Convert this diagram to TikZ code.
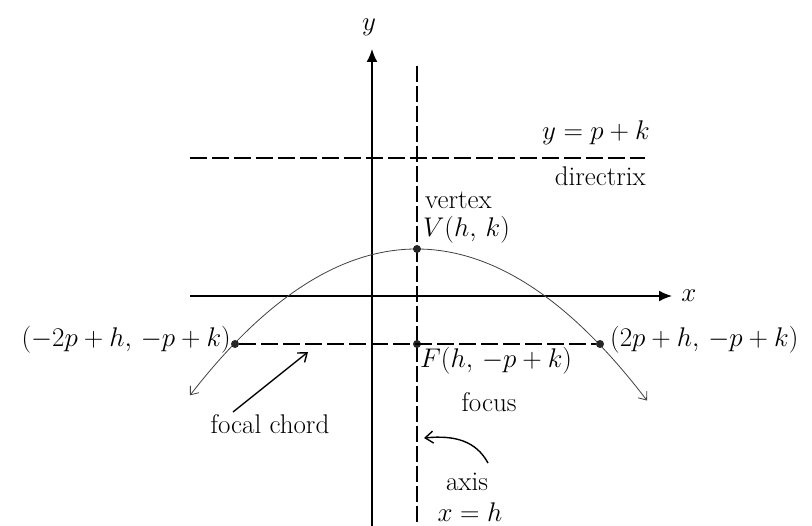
\RequirePackage{fix-cm}
\documentclass[tikz,border=0pt]{standalone}
\usetikzlibrary{arrows.meta}
\tikzset{
  axisline/.style={line width=1.6pt,-{Latex[length=13pt,width=11pt]}},
  dashline/.style={line width=1.3pt,dash pattern=on 17pt off 5pt},
  vdashline/.style={line width=1.3pt,dash pattern=on 16pt off 4pt},
  curveline/.style={line width=0.8pt,draw=black!75},
  dotnode/.style={circle,fill=black!85,inner sep=0pt,minimum size=8pt},
  lbl/.style={inner sep=0pt,font=\fontsize{27}{31}\selectfont},
  pointer/.style={line width=1.4pt,-{Straight Barb[length=8pt,width=12pt,line width=1.4pt]}},
}
\begin{document}
\begin{tikzpicture}[x=1pt,y=-1pt]
\useasboundingbox (0,0) rectangle (812,526);
% axes
\coordinate (ybot) at (372,526);
\coordinate (ytop) at (372,49);
\coordinate (xl) at (190,296);
\coordinate (xr) at (672,296);
\draw[axisline] (ybot) -- (ytop);
\draw[axisline] (xl) -- (xr);
\node[lbl,anchor=base] (ylab) at (369,31) {$y$};
\node[lbl,anchor=base] (xlab) at (689,302) {$x$};
% axis of symmetry
\coordinate (atop) at (417,66);
\coordinate (abot) at (417,526);
\draw[vdashline] (atop) -- (abot);
% directrix
\coordinate (dl) at (190,158);
\coordinate (dr) at (645,158);
\draw[dashline] (dl) -- (dr);
\node[lbl,anchor=base east] (dirEq) at (650,140) {$y = p + k$};
\node[lbl,anchor=base east] (dirTxt) at (646,186) {directrix};
% parabola
\draw[curveline,{Straight Barb[length=7pt,width=11pt]}-{Straight Barb[length=7pt,width=11pt]}]
  plot[domain=-226.5:230.5,samples=120,smooth] ({416.5+\x},{249+95*(\x/182.5)*(\x/182.5)});
% points
\node[dotnode] (V) at (417,249) {};
\node[dotnode] (F) at (417,344) {};
\node[dotnode] (L) at (235,344) {};
\node[dotnode] (R) at (600,344) {};
\draw[dashline] (L) -- (R);
% labels
\node[lbl,anchor=base west] (vtx) at (425,209) {vertex};
\node[lbl,anchor=base west] (Vlab) at (423,237) {$V(h,\,k)$};
\node[lbl,anchor=base east] (Llab) at (231,347) {$(-2p + h,\,-p + k)$};
\node[lbl,anchor=base west] (Rlab) at (610,347) {$(2p + h,\,-p + k)$};
\node[lbl,anchor=base west] (Flab) at (420,368) {$F(h,\,-p + k)$};
\node[lbl,anchor=base] (foc) at (489,412) {focus};
\node[lbl,anchor=base] (fch) at (270,434) {focal chord};
\node[lbl,anchor=base] (axl) at (467,491) {axis};
\node[lbl,anchor=base] (xeq) at (470,522) {$x = h$};
% pointers
\coordinate (fchtail) at (233,412);
\coordinate (fchtip) at (308,352);
\draw[pointer] (fchtail) -- (fchtip);
\coordinate (axtail) at (488,463);
\coordinate (axtip) at (424,438);
\draw[pointer] (axtail) .. controls (476,441) and (455,435) .. (axtip);
\end{tikzpicture}
\end{document}
